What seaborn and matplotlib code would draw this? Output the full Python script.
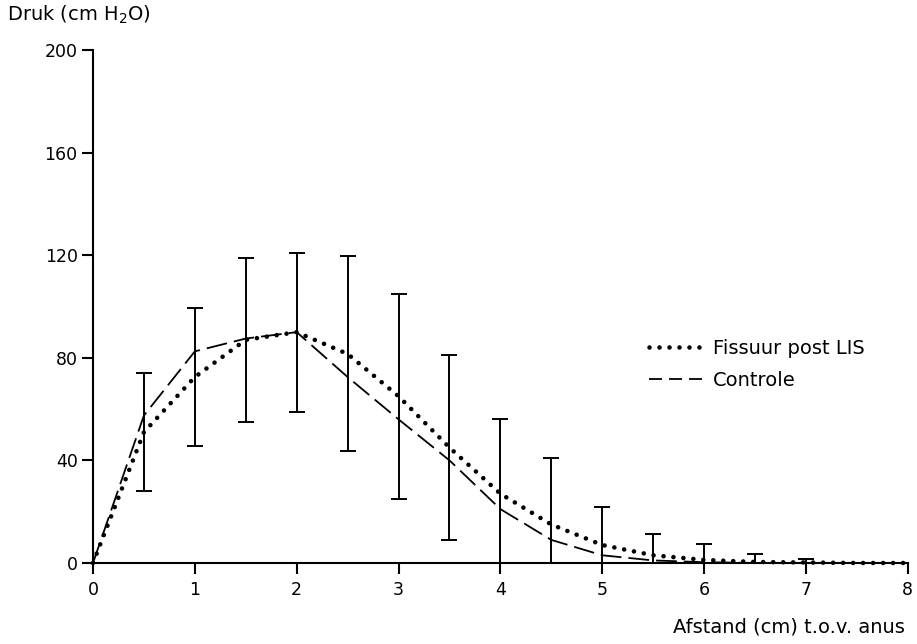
import numpy as np
import pandas as pd
import matplotlib
matplotlib.use("Agg")
import matplotlib.pyplot as plt
import seaborn as sns

# Pressure profile along the anal canal
afstand = [0, 0.5, 1, 1.5, 2, 2.5, 3, 3.5, 4, 4.5, 5, 5.5, 6, 6.5, 7, 7.5, 8]
fissuur = [0, 51, 72.5, 87, 90, 81.5, 65, 45, 27, 15, 7, 3, 1.2, 0.4, 0.2, 0, 0]
fissuur_sd = [0, 23, 27, 32, 31, 38, 40, 36, 29, 26, 15, 8.3, 6.2, 3.2, 1.2, 0, 0]
controle = [0, 57.5, 82.5, 87.5, 90, 72.5, 56, 40, 21, 9, 3, 1, 0.3, 0, 0, 0, 0]

y_ticks = [0, 40, 80, 120, 160, 200]
x_ticks = [0, 1, 2, 3, 4, 5, 6, 7, 8]

df = pd.DataFrame({
    "afstand": afstand * 2,
    "druk": fissuur + controle,
    "groep": ["Fissuur post LIS"] * len(afstand) + ["Controle"] * len(afstand),
})

sns.set_style("ticks")
plt.rcParams["font.family"] = ["DejaVu Sans"]
plt.rcParams["text.color"] = "black"

fig = plt.figure(figsize=(9.17, 6.44), dpi=100)
ax = fig.add_axes([0.1014, 0.1258, 0.8886, 0.7966])

sns.lineplot(data=df[df.groep == "Fissuur post LIS"], x="afstand", y="druk",
             color="black", lw=3.3, ax=ax, clip_on=False,
             label="Fissuur post LIS")
sns.lineplot(data=df[df.groep == "Controle"], x="afstand", y="druk",
             color="black", lw=1.3, ax=ax, clip_on=False, label="Controle")

dotted = (0, (0.01, 2.17))
dashed = (0, (11.5, 3.9))
lines = ax.get_lines()
lines[0].set_linestyle(dotted)
lines[0].set_dash_capstyle("round")
lines[1].set_linestyle(dashed)

# standard deviation bars for the fissure group
x_arr = np.array(afstand)
m_arr = np.array(fissuur)
s_arr = np.array(fissuur_sd)
has_bar = s_arr > 0
ax.errorbar(x_arr[has_bar], m_arr[has_bar], yerr=s_arr[has_bar], fmt="none",
            ecolor="black", elinewidth=1.4, capsize=5.5, capthick=1.4)

ax.set_xlim(0, 8)
ax.set_ylim(0, 200)
ax.set_xticks(x_ticks)
ax.set_yticks(y_ticks)
ax.set_xticklabels([str(v) for v in x_ticks])
ax.set_yticklabels([str(v) for v in y_ticks])
ax.tick_params(axis="both", length=8, width=1.5, labelsize=12.5, color="black",
               labelcolor="black", direction="out")
ax.tick_params(axis="y", pad=3)
ax.tick_params(axis="x", pad=5)
for side in ["top", "right"]:
    ax.spines[side].set_visible(False)
for side in ["left", "bottom"]:
    ax.spines[side].set_linewidth(1.5)
    ax.spines[side].set_color("black")
ax.set_xlabel("")
ax.set_ylabel("")

fig.text(0.008, 1 - 15 / 644, "Druk (cm H$_2$O)", fontsize=14, ha="left",
         va="center")
fig.text(905 / 917, 1 - 627 / 644, "Afstand (cm) t.o.v. anus", fontsize=14,
         ha="right", va="center")

leg = ax.legend(loc="upper left", bbox_to_anchor=(649 / 917, 1 - 339 / 644),
                bbox_transform=fig.transFigure, frameon=False, fontsize=14,
                handlelength=2.7, handletextpad=0.6, labelspacing=0.65,
                borderpad=0, borderaxespad=0)
leg_lines = leg.get_lines()
leg_lines[0].set_linewidth(3.3)
leg_lines[0].set_linestyle(dotted)
leg_lines[0].set_dash_capstyle("round")
leg_lines[1].set_linestyle((0, (7.2, 3.9)))

fig.savefig("out.png", dpi=100, facecolor="white")
